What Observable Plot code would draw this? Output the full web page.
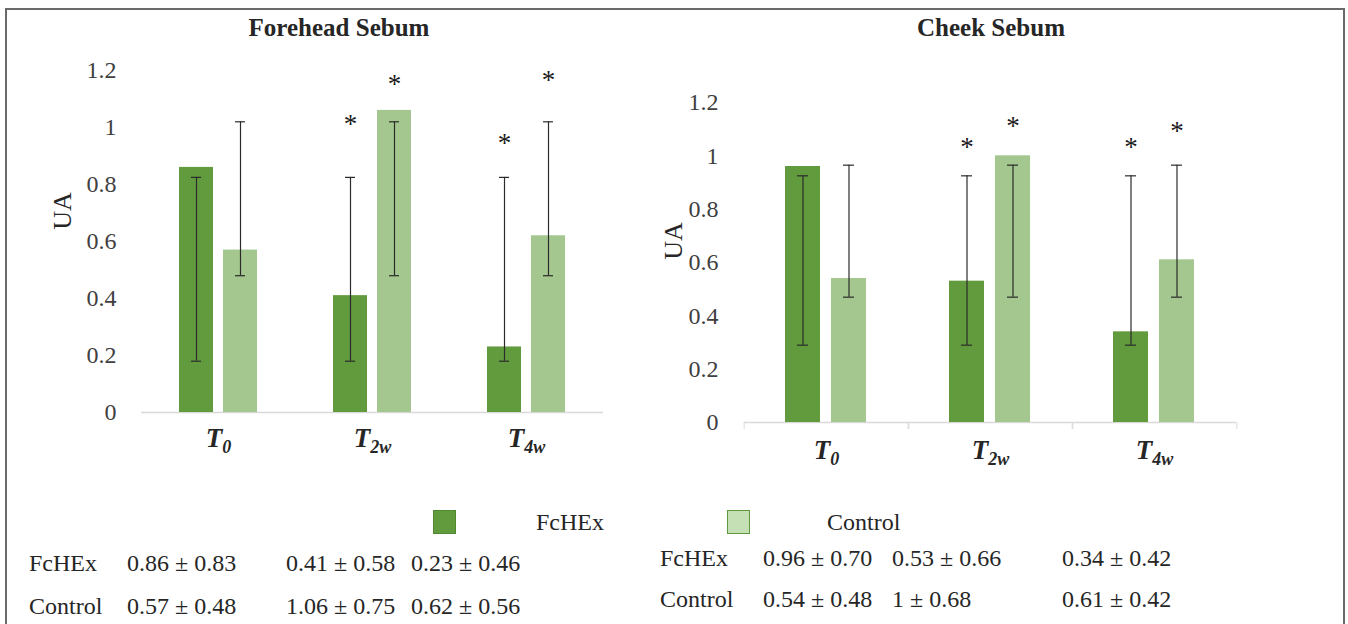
<!DOCTYPE html>
<html><head><meta charset="utf-8">
<script src="https://cdn.jsdelivr.net/npm/d3@7"></script>
<script src="https://cdn.jsdelivr.net/npm/@observablehq/plot@0.6"></script>
<style>
body{margin:0;background:#fff;}
#root{position:relative;width:1348px;height:624px;overflow:hidden;background:#fff;font-family:"Liberation Serif",serif;color:#262626;}
.abs{position:absolute;white-space:nowrap;line-height:1;}
.title{font-weight:bold;font-size:25px;transform:translate(-50%,-50%);}
.ua{font-size:26px;transform:translate(-50%,-50%) rotate(-90deg);}
.cell{font-size:24px;transform:translateY(-50%);}
.sw{width:23px;height:24px;box-sizing:border-box;border:1.5px solid;}
#frame{position:absolute;left:5px;top:8px;width:1340px;height:700px;border:2px solid #6a6a6a;box-sizing:border-box;}
svg{position:absolute;overflow:visible;}
svg text{font-family:"Liberation Serif",serif;}
</style></head><body><div id="root"><div id="frame"></div></div>
<script>
const categories = ["T0", "T2w", "T4w"];
const series = ["FcHEx", "Control"];
const colors = ["#619b3e", "#a3c78e"];
const yTicks = [0, 0.2, 0.4, 0.6, 0.8, 1, 1.2];

// Forehead sebum (bar heights = means)
const foreheadFcHEx = [0.86, 0.41, 0.23];
const foreheadControl = [0.57, 1.06, 0.62];
// error bar extents as drawn in the figure [low, high]
const foreheadErrFcHEx = [0.18, 0.825];
const foreheadErrControl = [0.48, 1.02];
// significance asterisk heights (null = none)
const foreheadStarFcHEx = [null, 1.01, 0.945];
const foreheadStarControl = [null, 1.15, 1.165];

// Cheek sebum
const cheekFcHEx = [0.96, 0.53, 0.34];
const cheekControl = [0.54, 1.00, 0.61];
const cheekErrFcHEx = [0.29, 0.925];
const cheekErrControl = [0.47, 0.965];
const cheekStarFcHEx = [null, 1.03, 1.03];
const cheekStarControl = [null, 1.11, 1.09];

// summary tables (mean ± SD)
const foreheadTableFcHEx = ["0.86 ± 0.83", "0.41 ± 0.58", "0.23 ± 0.46"];
const foreheadTableControl = ["0.57 ± 0.48", "1.06 ± 0.75", "0.62 ± 0.56"];
const cheekTableFcHEx = ["0.96 ± 0.70", "0.53 ± 0.66", "0.34 ± 0.42"];
const cheekTableControl = ["0.54 ± 0.48", "1 ± 0.68", "0.61 ± 0.42"];

const root = document.getElementById("root");
const SVGNS = "http://www.w3.org/2000/svg";
const FONT = "Liberation Serif";

function rowsOf(fc, ctl, errFc, errCtl, starFc, starCtl) {
  return categories.flatMap((c, i) => [
    {cat: c, series: "FcHEx", value: fc[i], lo: errFc[0], hi: errFc[1], star: starFc[i]},
    {cat: c, series: "Control", value: ctl[i], lo: errCtl[0], hi: errCtl[1], star: starCtl[i]}
  ]);
}

function panel(cfg) {
  const rows = rowsOf(...cfg.data);
  const bw = (cfg.width - cfg.marginLeft - cfg.marginRight) / categories.length;
  const marks = [
    Plot.ruleY([0], {stroke: "#d9d9d9", strokeWidth: 1.5}),
    Plot.barY(rows, {fx: "cat", x: "series", y: "value", fill: "series"}),
    Plot.ruleX(rows, {fx: "cat", x: "series", y1: "lo", y2: "hi", stroke: "#2b2b2b", strokeWidth: 1.2}),
    Plot.tickY(rows, {fx: "cat", x: "series", y: "lo", stroke: "#2b2b2b", strokeWidth: 1.2, insetLeft: 12, insetRight: 12}),
    Plot.tickY(rows, {fx: "cat", x: "series", y: "hi", stroke: "#2b2b2b", strokeWidth: 1.2, insetLeft: 12, insetRight: 12}),
    Plot.text(rows.filter(d => d.star != null), {fx: "cat", x: "series", y: "star", text: () => "*", fontSize: 27, fontFamily: FONT, fill: "#1a1a1a", lineAnchor: "middle"}),
    Plot.axisY({ticks: yTicks, tickSize: 0, tickPadding: cfg.tickPadding, tickFormat: d => String(+d.toFixed(1)), label: null, fontSize: 24, fontFamily: FONT, fill: "#404040"}),
    Plot.axisFx({anchor: "bottom", tickSize: 0, tickPadding: cfg.fxPadding, label: null, fontSize: 27, fontFamily: FONT})
  ];
  if (cfg.boundaryTicks) {
    marks.push(Plot.axisFx({anchor: "bottom", tickSize: 7, dx: -bw / 2, tickFormat: () => "", label: null, stroke: "#d9d9d9"}));
    marks.push(Plot.axisFx({anchor: "bottom", tickSize: 7, dx: bw / 2, tickFormat: () => "", label: null, stroke: "#d9d9d9"}));
  }
  const svg = Plot.plot({
    width: cfg.width, height: cfg.height,
    marginLeft: cfg.marginLeft, marginRight: cfg.marginRight,
    marginTop: cfg.marginTop, marginBottom: cfg.marginBottom,
    style: {fontFamily: FONT, background: "transparent", color: "#262626"},
    fx: {domain: categories, padding: 0},
    x: {domain: series, paddingInner: 0.23, paddingOuter: 0.865, axis: null},
    y: {domain: [0, 1.2]},
    color: {domain: series, range: colors},
    marks
  });
  svg.style.left = cfg.left + "px";
  svg.style.top = "0px";
  // subscripted, bold italic category labels
  svg.querySelectorAll('[aria-label="fx-axis tick label"] text').forEach(t => {
    const s = t.textContent;
    if (!s) return;
    t.textContent = "";
    t.setAttribute("font-weight", "bold");
    t.setAttribute("font-style", "italic");
    const a = document.createElementNS(SVGNS, "tspan");
    a.textContent = s[0];
    const b = document.createElementNS(SVGNS, "tspan");
    b.textContent = s.slice(1);
    b.setAttribute("font-size", "18");
    b.setAttribute("dy", "6");
    t.append(a, b);
  });
  root.appendChild(svg);
}

panel({left: 0, width: 640, height: 480, marginLeft: 140, marginRight: 37, marginTop: 70, marginBottom: 68,
  tickPadding: 25, fxPadding: 15, boundaryTicks: false,
  data: [foreheadFcHEx, foreheadControl, foreheadErrFcHEx, foreheadErrControl, foreheadStarFcHEx, foreheadStarControl]});
panel({left: 640, width: 708, height: 500, marginLeft: 103, marginRight: 111, marginTop: 102, marginBottom: 78,
  tickPadding: 26, fxPadding: 17, boundaryTicks: true,
  data: [cheekFcHEx, cheekControl, cheekErrFcHEx, cheekErrControl, cheekStarFcHEx, cheekStarControl]});

function addText(cls, text, x, y) {
  const d = document.createElement("div");
  d.className = "abs " + cls;
  d.textContent = text;
  d.style.left = x + "px";
  d.style.top = y + "px";
  root.appendChild(d);
  return d;
}
addText("title", "Forehead Sebum", 339, 27);
addText("title", "Cheek Sebum", 991, 27);
addText("ua", "UA", 63, 211);
addText("ua", "UA", 674, 241);

// legend
[[series[0], colors[0], "#4f8a30", 433, 536], [series[1], "#c5e0b4", "#5e9a3c", 727, 827]].forEach(([name, fill, border, sx, tx]) => {
  const s = document.createElement("div");
  s.className = "abs sw";
  s.style.left = sx + "px"; s.style.top = "510px";
  s.style.background = fill; s.style.borderColor = border;
  root.appendChild(s);
  addText("cell", name, tx, 522);
});

// tables
const leftCols = [127, 286, 411];
const rightCols = [763, 892, 1062];
addText("cell", series[0], 29, 563);
addText("cell", series[1], 29, 606);
foreheadTableFcHEx.forEach((t, i) => addText("cell", t, leftCols[i], 563));
foreheadTableControl.forEach((t, i) => addText("cell", t, leftCols[i], 606));
addText("cell", series[0], 660, 558);
addText("cell", series[1], 660, 599);
cheekTableFcHEx.forEach((t, i) => addText("cell", t, rightCols[i], 558));
cheekTableControl.forEach((t, i) => addText("cell", t, rightCols[i], 599));
</script></body></html>
